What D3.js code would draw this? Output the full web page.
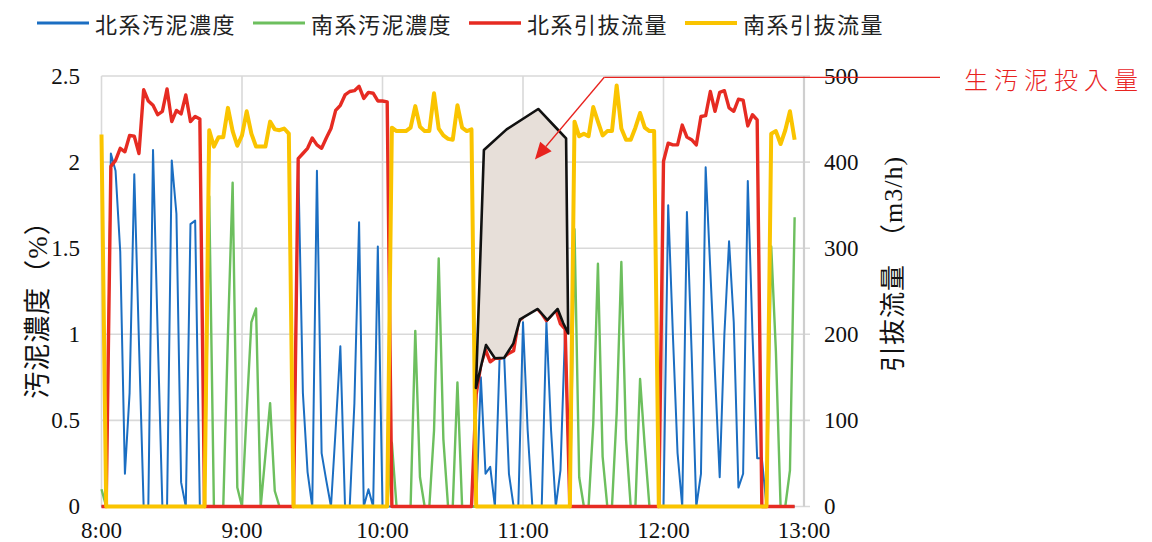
<!DOCTYPE html>
<html>
<head>
<meta charset="utf-8">
<script src="https://cdn.jsdelivr.net/npm/d3@7"></script>
<style>
  html, body { margin: 0; padding: 0; background: #fff; }
  svg { display: block; }
</style>
</head>
<body>
<svg id="chart" width="1152" height="542"></svg>
<script>
// ---- data: one sample every 2 minutes from 8:00 ----
const startHour = 8;
const stepMinutes = 2;

// 北系汚泥濃度 (%)
const northConc = [
  0, 0,
  2.05, 1.95, 1.48, 0.19, 0.66, 1.93, 0.95, 0, 0, 2.07, 1.0, 0, 0, 2.01, 1.7, 0.14, 0, 1.64, 1.66, 0,
  0, 0, 0, 0, 0, 0, 0, 0, 0, 0, 0, 0, 0, 0, 0, 0, 0, 0, 0, 0,
  2.0, 0.66, 0.2, 0, 1.95, 0.31, 0.15, 0, 0.45, 0.93, 0, 0, 0.6, 1.65, 0, 0.1, 0, 1.51, 0, 0,
  0, 0, 0, 0, 0, 0, 0, 0, 0, 0, 0, 0, 0, 0, 0, 0, 0, 0,
  0, 0.75, 0.19, 0.23, 0, 0.86, 0.86, 0.19, 0, 0, 1.07, 0.44, 0, 0, 0, 1.07, 0.44, 0, 0.21, 1.03,
  0, 0, 0, 0, 0, 0, 0, 0, 0, 0, 0, 0, 0, 0, 0, 0, 0, 0, 0, 0,
  0, 1.75, 1.0, 0.31, 0, 1.71, 0.9, 0, 0.19, 1.97, 1.37, 0.77, 0.17, 1.0, 1.54, 1.07, 0.11, 0.19, 1.89, 1.0, 0.28, 0.28,
  0, 0, 0, 0, 0, 0, 0
];

// 南系汚泥濃度 (%)
const southConc = [
  0.1,
  0, 0, 0, 0, 0, 0, 0, 0, 0, 0, 0, 0, 0, 0, 0, 0, 0, 0, 0, 0, 0, 0,
  1.8, 0, 0, 0, 1.0, 1.88, 0.11, 0, 0.55, 1.07, 1.15, 0, 0.3, 0.6, 0.09, 0, 0, 0,
  0, 0, 0, 0, 0, 0, 0, 0, 0, 0, 0, 0, 0, 0, 0, 0, 0, 0, 0, 0, 0,
  0.37, 0, 0, 0, 0, 1.02, 0.17, 0, 0, 0.44, 1.44, 0.39, 0, 0, 0.72, 0, 0, 0,
  0, 0, 0, 0, 0, 0, 0, 0, 0, 0, 0, 0, 0, 0, 0, 0, 0, 0, 0, 0, 0,
  1.61, 0.17, 0, 0, 0.48, 1.41, 0.29, 0, 0, 0.54, 1.42, 0.39, 0, 0, 0.74, 0.35, 0, 0,
  0, 0, 0, 0, 0, 0, 0, 0, 0, 0, 0, 0, 0, 0, 0, 0, 0, 0, 0, 0, 0, 0, 0, 0,
  1.51, 0.9, 0, 0, 0.21, 1.68
];

// 北系引抜流量 (m3/h)
const northFlow = [
  0, 0,
  395, 402, 416, 412, 431, 430, 410, 484, 471, 466, 455, 459, 485, 447, 460, 456, 478, 447, 453, 450,
  0, 0, 0, 0, 0, 0, 0, 0, 0, 0, 0, 0, 0, 0, 0, 0, 0, 0, 0, 0,
  404, 410, 416, 428, 420, 416, 428, 439, 460, 466, 478, 482, 483, 488, 474, 481, 480, 471, 471, 470,
  0, 0, 0, 0, 0, 0, 0, 0, 0, 0, 0, 0, 0, 0, 0, 0, 0, 0,
  130, 165, 182, 168, 172, 172, 174, 178, 181, 215, 220, 225, 228, 230, 224, 216, 222, 229, 212, 206,
  0, 0, 0, 0, 0, 0, 0, 0, 0, 0, 0, 0, 0, 0, 0, 0, 0, 0, 0, 0,
  401, 422, 420, 420, 443, 429, 426, 420, 453, 454, 482, 459, 481, 483, 463, 459, 473, 472, 442, 455, 449,
  0, 0, 0, 0, 0, 0, 0, 0
];

// 南系引抜流量 (m3/h)
const southFlow = [
  432,
  0, 0, 0, 0, 0, 0, 0, 0, 0, 0, 0, 0, 0, 0, 0, 0, 0, 0, 0, 0, 0, 0,
  437, 418, 429, 429, 463, 436, 419, 431, 459, 433, 418, 418, 418, 447, 438, 437, 439, 433,
  0, 0, 0, 0, 0, 0, 0, 0, 0, 0, 0, 0, 0, 0, 0, 0, 0, 0, 0, 0, 0,
  440, 436, 436, 436, 440, 465, 441, 436, 436, 480, 439, 431, 427, 426, 466, 440, 436, 438,
  0, 0, 0, 0, 0, 0, 0, 0, 0, 0, 0, 0, 0, 0, 0, 0, 0, 0, 0, 0, 0,
  447, 430, 433, 430, 464, 447, 431, 436, 436, 489, 439, 426, 426, 440, 457, 440, 436, 436,
  0, 0, 0, 0, 0, 0, 0, 0, 0, 0, 0, 0, 0, 0, 0, 0, 0, 0, 0, 0, 0, 0, 0, 0,
  433, 436, 421, 437, 459, 426
];

const seriesNames = ["北系汚泥濃度", "南系汚泥濃度", "北系引抜流量", "南系引抜流量"];
const xTickLabels = ["8:00", "9:00", "10:00", "11:00", "12:00", "13:00"];
const concTicks = [0, 0.5, 1, 1.5, 2, 2.5];
const flowTicks = [0, 100, 200, 300, 400, 500];
const leftTitle = "汚泥濃度（%）";
const rightTitle = "引抜流量　（m3/h)";

// 生汚泥投入量: outline of the shaded region (minutes after 8:00, m3/h)
const inputMinutes = [159.9, 163.3, 173.0, 186.5, 195.1, 198.4, 199.3, 197.2, 194.8, 190.4, 186.3, 178.7, 175.9, 172.0, 168.0, 164.2];
const inputFlows   = [137.6, 414.0, 438.0, 461.7, 437.0, 427.6, 201.0, 212.8, 229.4, 216.6, 229.4, 217.4, 189.5, 172.8, 172.1, 187.6];
const calloutText = "生汚泥投入量";
const calloutTip = { minute: 185.1, flow: 403 };
const calloutElbow = { minute: 214.7, flow: 498.5 };

// ---- layout ----
const svg = d3.select("#chart");
const plot = { left: 101.5, right: 804, top: 76, bottom: 506.5 };
const colors = ["#1b6ec2", "#6dbf5e", "#e62b22", "#fac400"];
const widths = [2, 2.4, 3.4, 4];
const serif = "'Liberation Serif', 'Times New Roman', 'Noto Sans CJK JP', serif";
const gothic = "'Noto Sans CJK JP', 'Noto Sans', sans-serif";

const x = d3.scaleLinear().domain([0, 300]).range([plot.left, plot.right]);
const yConc = d3.scaleLinear().domain([0, 2.5]).range([plot.bottom, plot.top]);
const yFlow = d3.scaleLinear().domain([0, 500]).range([plot.bottom, plot.top]);
const minuteOf = i => i * stepMinutes;

// gridlines
const grid = svg.append("g").attr("stroke", "#d9d9d9").attr("stroke-width", 1.6);
concTicks.forEach(v => {
  grid.append("line")
    .attr("x1", plot.left).attr("x2", plot.right + 6)
    .attr("y1", yConc(v)).attr("y2", yConc(v));
});
xTickLabels.forEach((_, i) => {
  grid.append("line")
    .attr("x1", x(i * 60)).attr("x2", x(i * 60))
    .attr("y1", plot.top).attr("y2", plot.bottom);
});
grid.append("line")
  .attr("x1", plot.right).attr("x2", plot.right)
  .attr("y1", plot.top).attr("y2", plot.bottom)
  .attr("stroke", "#cfcfcf").attr("stroke-width", 2.2);

// axes labels
const axisText = svg.append("g").attr("font-family", serif).attr("font-size", 23).attr("fill", "#111");
concTicks.forEach(v => {
  axisText.append("text").attr("x", 80).attr("y", yConc(v)).attr("dy", "0.34em")
    .attr("text-anchor", "end").text(d3.format("")(v));
});
flowTicks.forEach(v => {
  axisText.append("text").attr("x", 824).attr("y", yFlow(v)).attr("dy", "0.34em")
    .attr("text-anchor", "start").text(v);
});
xTickLabels.forEach((t, i) => {
  axisText.append("text").attr("x", x(i * 60)).attr("y", 538)
    .attr("text-anchor", "middle").text(t);
});
axisText.append("text")
  .attr("transform", "translate(38,303) rotate(-90)")
  .attr("font-size", 27).attr("letter-spacing", 1)
  .attr("text-anchor", "middle").attr("dominant-baseline", "central").text(leftTitle);
axisText.append("text")
  .attr("transform", "translate(893,264) rotate(-90)")
  .attr("font-size", 26).attr("letter-spacing", 1)
  .attr("text-anchor", "middle").attr("dominant-baseline", "central").text(rightTitle);

// series lines
const series = [
  { values: northConc, y: yConc },
  { values: southConc, y: yConc },
  { values: northFlow, y: yFlow },
  { values: southFlow, y: yFlow }
];
const lines = svg.append("g").attr("fill", "none").attr("stroke-linejoin", "round");
series.forEach((s, si) => {
  const gen = d3.line().x((d, i) => x(minuteOf(i))).y(d => s.y(d));
  lines.append("path")
    .attr("d", gen(s.values))
    .attr("stroke", colors[si])
    .attr("stroke-width", widths[si]);
});

// shaded raw-sludge input region
const inputPoints = inputMinutes.map((m, i) => [x(m), yFlow(inputFlows[i])]);
svg.append("path")
  .attr("d", d3.line()(inputPoints) + "Z")
  .attr("fill", "#e7dfd9")
  .attr("stroke", "#111")
  .attr("stroke-width", 2.6)
  .attr("stroke-linejoin", "round");

// callout line, arrow and label
const tip = [x(calloutTip.minute), yFlow(calloutTip.flow)];
const elbow = [x(calloutElbow.minute), yFlow(calloutElbow.flow)];
const calloutColor = "#e8231f";
svg.append("line")
  .attr("x1", elbow[0]).attr("y1", elbow[1]).attr("x2", 940).attr("y2", elbow[1])
  .attr("stroke", calloutColor).attr("stroke-width", 1.3);
const ang = Math.atan2(tip[1] - elbow[1], tip[0] - elbow[0]);
const headLen = 17, headHalf = 7.5;
const base = [tip[0] - headLen * Math.cos(ang), tip[1] - headLen * Math.sin(ang)];
svg.append("line")
  .attr("x1", elbow[0]).attr("y1", elbow[1]).attr("x2", base[0]).attr("y2", base[1])
  .attr("stroke", calloutColor).attr("stroke-width", 1.3);
svg.append("path")
  .attr("d", d3.line()([
    tip,
    [base[0] + headHalf * Math.sin(ang), base[1] - headHalf * Math.cos(ang)],
    [base[0] - headHalf * Math.sin(ang), base[1] + headHalf * Math.cos(ang)]
  ]) + "Z")
  .attr("fill", calloutColor);
svg.append("text")
  .attr("x", 964).attr("y", elbow[1] + 1)
  .attr("dominant-baseline", "central")
  .attr("font-family", gothic).attr("font-size", 24).attr("font-weight", 300)
  .attr("letter-spacing", 6)
  .attr("fill", calloutColor)
  .text(calloutText);

// legend
const legendX = [37, 253, 469, 685];
const legend = svg.append("g");
seriesNames.forEach((name, i) => {
  legend.append("line")
    .attr("x1", legendX[i]).attr("x2", legendX[i] + 52)
    .attr("y1", 23).attr("y2", 23)
    .attr("stroke", colors[i]).attr("stroke-width", Math.max(3, widths[i]));
  legend.append("text")
    .attr("x", legendX[i] + 58).attr("y", 23)
    .attr("dominant-baseline", "central")
    .attr("font-family", gothic).attr("font-size", 22).attr("letter-spacing", 1.5)
    .attr("fill", "#222")
    .text(name);
});
</script>
</body>
</html>
